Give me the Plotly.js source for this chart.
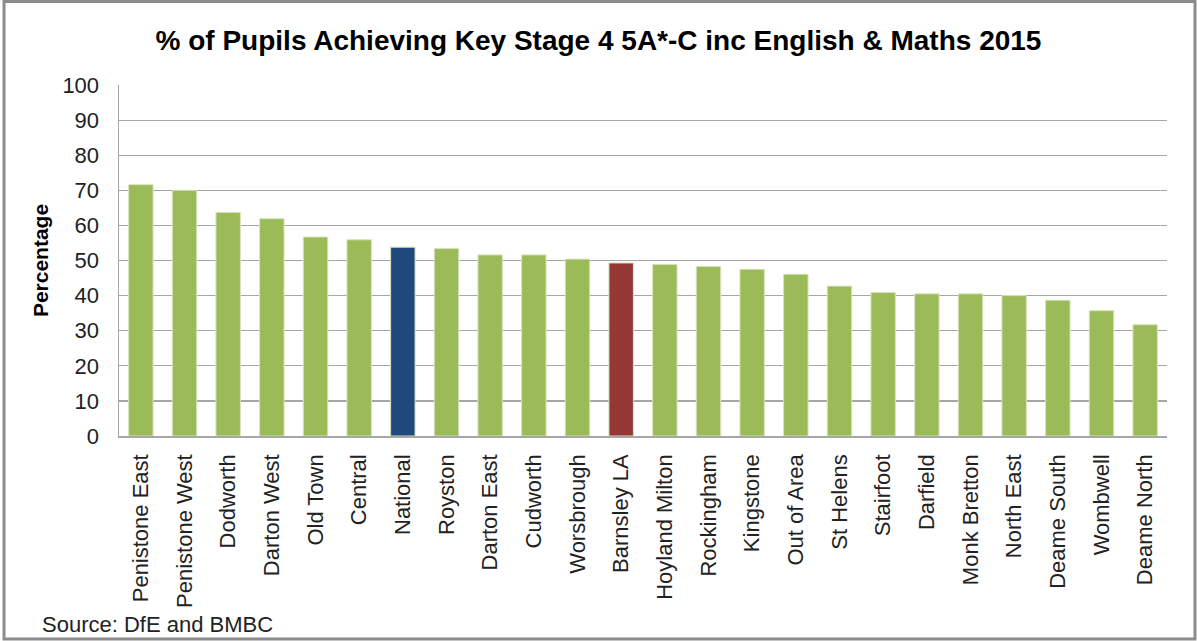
<!DOCTYPE html>
<html>
<head>
<meta charset="utf-8">
<script src="https://cdn.plot.ly/plotly-3.0.1.min.js"></script>
<style>
html,body{margin:0;padding:0;background:#fff;}
#chart{width:1197px;height:641px;}
</style>
</head>
<body>
<div id="chart"></div>
<script>
const categories = ["Penistone East","Penistone West","Dodworth","Darton West","Old Town","Central","National","Royston","Darton East","Cudworth","Worsbrough","Barnsley LA","Hoyland Milton","Rockingham","Kingstone","Out of Area","St Helens","Stairfoot","Darfield","Monk Bretton","North East","Deame South","Wombwell","Deame North"];
const percentages = [71.6, 70.0, 63.7, 61.9, 56.7, 55.9, 53.8, 53.4, 51.6, 51.6, 50.4, 49.3, 48.9, 48.3, 47.5, 46.1, 42.7, 40.9, 40.5, 40.5, 40.0, 38.7, 35.7, 31.7];
const highlight = {"National": "#1F497D", "Barnsley LA": "#953735"};
const defaultColor = "#9BBB59";
const yTicks = [0,10,20,30,40,50,60,70,80,90,100];

const colors = categories.map(c => highlight[c] || defaultColor);

const trace = {
  type: "bar",
  x: categories,
  y: percentages,
  marker: {color: colors, line: {color: "#D7E4BD", width: 1}},
  hoverinfo: "x+y"
};

const layout = {
  width: 1197, height: 641,
  margin: {l: 119, r: 30, t: 85, b: 205, pad: 0},
  paper_bgcolor: "#ffffff",
  plot_bgcolor: "#ffffff",
  bargap: 0.44,
  showlegend: false,
  title: {
    text: "<b>% of Pupils Achieving Key Stage 4 5A*-C inc English & Maths 2015</b>",
    font: {family: "Liberation Sans, Arial, sans-serif", size: 28, color: "#000"},
    x: 0.5, xanchor: "center", y: 0.938, yanchor: "middle"
  },
  font: {family: "Liberation Sans, Arial, sans-serif", color: "#222"},
  xaxis: {
    type: "category",
    tickangle: -90,
    tickfont: {size: 22, color: "#222"},
    ticklabelstandoff: 8,
    showline: true, linecolor: "#A6A6A6", linewidth: 1.5,
    ticks: "", showgrid: false,
    automargin: false
  },
  yaxis: {
    range: [0, 100],
    tickvals: yTicks,
    ticktext: yTicks.map(String),
    tickfont: {size: 22, color: "#222"},
    ticklabelstandoff: 14,
    showline: true, linecolor: "#A6A6A6", linewidth: 1.5,
    gridcolor: "#A6A6A6", gridwidth: 1.2,
    ticks: "",
    zeroline: false,
    title: {text: "<b>Percentage</b>", font: {size: 21, color: "#000"}, standoff: 8},
    automargin: false
  },
  annotations: [{
    text: "Source: DfE and BMBC",
    xref: "paper", yref: "paper",
    x: -0.0754, y: -0.538, xanchor: "left", yanchor: "middle",
    showarrow: false,
    font: {size: 22, color: "#222"}
  }],
  shapes: [{
    type: "rect", xref: "paper", yref: "paper",
    x0: -0.1097, x1: 1.0267, y0: -0.5783, y1: 1.2379,
    line: {color: "#8C8C8C", width: 3}, fillcolor: "rgba(0,0,0,0)", layer: "below"
  }]
};

Plotly.newPlot("chart", [trace], layout, {displayModeBar: false, staticPlot: true});
</script>
</body>
</html>
